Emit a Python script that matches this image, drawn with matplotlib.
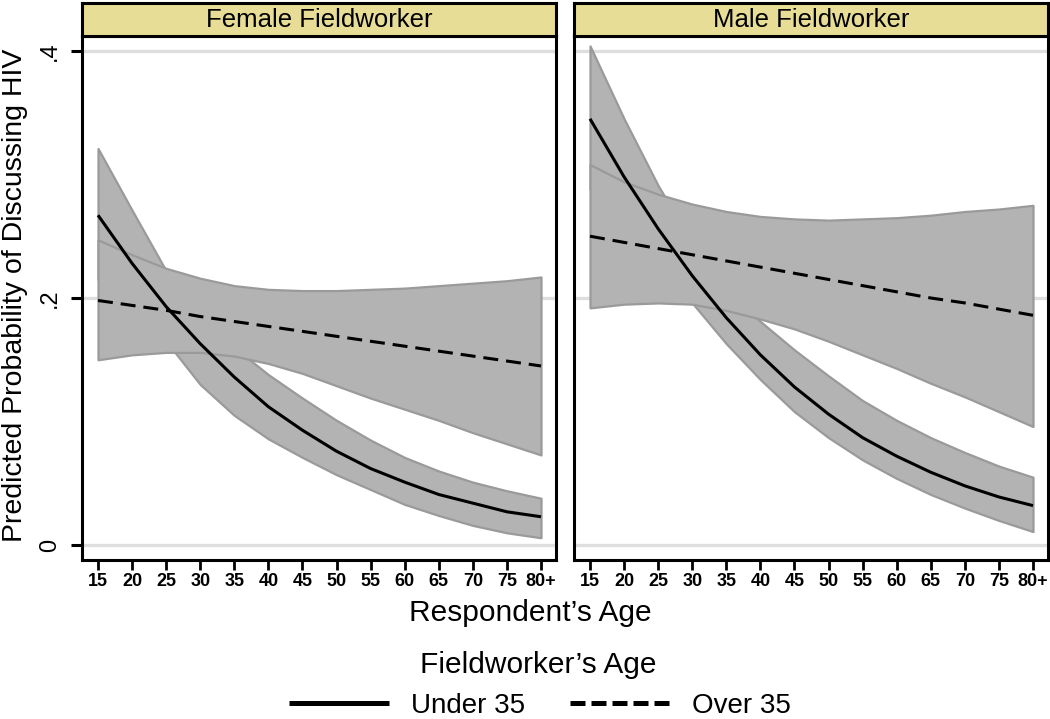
import matplotlib
matplotlib.use("Agg")
import matplotlib.pyplot as plt
from matplotlib.lines import Line2D

plt.rcParams['font.family'] = ['Liberation Sans', 'DejaVu Sans']

# ---------------- data ----------------
ages = [15, 20, 25, 30, 35, 40, 45, 50, 55, 60, 65, 70, 75, 80]
tick_labels = ['15', '20', '25', '30', '35', '40', '45', '50', '55', '60', '65', '70', '75', '80+']
panels = ['Female Fieldworker', 'Male Fieldworker']
series_labels = ['Under 35', 'Over 35']
legend_title = "Fieldworker\u2019s Age"
xlabel = "Respondent\u2019s Age"
ylabel = "Predicted Probability of Discussing HIV"
yticks = [0, 0.2, 0.4]
ytick_labels = ['0', '.2', '.4']

# Female fieldworker
f_under = [0.267, 0.228, 0.193, 0.163, 0.136, 0.112, 0.093, 0.076, 0.062, 0.051, 0.041, 0.034, 0.027, 0.023]
f_under_hi = [0.321, 0.271, 0.222, 0.187, 0.160, 0.138, 0.119, 0.101, 0.085, 0.071, 0.060, 0.051, 0.044, 0.038]
f_under_lo = [0.215, 0.190, 0.165, 0.130, 0.105, 0.086, 0.071, 0.057, 0.045, 0.033, 0.024, 0.016, 0.010, 0.006]
f_over = [0.198, 0.194, 0.190, 0.185, 0.181, 0.177, 0.173, 0.169, 0.165, 0.161, 0.157, 0.153, 0.149, 0.145]
f_over_hi = [0.247, 0.235, 0.224, 0.216, 0.210, 0.207, 0.206, 0.206, 0.207, 0.208, 0.210, 0.212, 0.214, 0.217]
f_over_lo = [0.150, 0.154, 0.156, 0.156, 0.153, 0.147, 0.139, 0.129, 0.119, 0.110, 0.101, 0.091, 0.082, 0.073]

# Male fieldworker
m_under = [0.345, 0.298, 0.256, 0.218, 0.184, 0.154, 0.128, 0.106, 0.087, 0.072, 0.059, 0.048, 0.039, 0.032]
m_under_hi = [0.404, 0.345, 0.291, 0.245, 0.210, 0.181, 0.158, 0.137, 0.117, 0.101, 0.087, 0.075, 0.064, 0.055]
m_under_lo = [0.288, 0.255, 0.226, 0.196, 0.163, 0.134, 0.108, 0.087, 0.069, 0.054, 0.041, 0.030, 0.020, 0.011]
m_over = [0.250, 0.245, 0.240, 0.235, 0.230, 0.225, 0.220, 0.215, 0.210, 0.205, 0.200, 0.196, 0.191, 0.186]
m_over_hi = [0.308, 0.294, 0.284, 0.276, 0.270, 0.266, 0.264, 0.263, 0.264, 0.265, 0.267, 0.270, 0.272, 0.275]
m_over_lo = [0.192, 0.195, 0.196, 0.195, 0.190, 0.183, 0.175, 0.165, 0.154, 0.143, 0.131, 0.120, 0.108, 0.096]

panel_data = [
    (f_under, f_under_lo, f_under_hi, f_over, f_over_lo, f_over_hi),
    (m_under, m_under_lo, m_under_hi, m_over, m_over_lo, m_over_hi),
]

# ---------------- styling ----------------
W, H = 1050, 719
fig = plt.figure(figsize=(W / 100, H / 100), dpi=100)
fig.patch.set_facecolor('white')

band_fill = '#b3b3b3'
band_edge = '#9a9a9a'
grid_col = '#dedede'
strip_col = '#e8dd96'

plot_top, plot_bot = 36, 560
panel_x = [82, 574]
panel_w = 474

tick_font = ['Liberation Sans Narrow', 'Liberation Sans', 'DejaVu Sans']

axes = []
for i, (px0, title) in enumerate(zip(panel_x, panels)):
    ax = fig.add_axes([px0 / W, 1 - plot_bot / H, panel_w / W, (plot_bot - plot_top) / H])
    axes.append(ax)
    u, ulo, uhi, o, olo, ohi = panel_data[i]

    for yv in yticks:
        ax.axhline(yv, color=grid_col, lw=2.4, zorder=1)

    ax.fill_between(ages, ulo, uhi, facecolor=band_fill, edgecolor=band_edge, lw=1.6, zorder=2)
    ax.fill_between(ages, olo, ohi, facecolor=band_fill, edgecolor=band_edge, lw=1.6, zorder=3)
    ax.plot(ages, u, color='black', lw=2.2, zorder=5, solid_capstyle='butt')
    ax.plot(ages, o, color='black', lw=2.2, dashes=(4.9, 2.6), zorder=5)

    ax.set_xlim(12.65, 82.2)
    ax.set_ylim(-0.012, 0.412)
    ax.set_xticks(ages)
    ax.set_xticklabels(tick_labels, fontsize=13, fontweight='bold', family=tick_font)
    ax.tick_params(axis='x', direction='out', length=7, width=2, pad=2, color='black')
    ax.set_yticks(yticks)
    if i == 0:
        ax.set_yticklabels(ytick_labels, fontsize=17, rotation=90, va='center')
        ax.tick_params(axis='y', direction='out', length=8, width=2.2, pad=7)
    else:
        ax.set_yticklabels([])
        ax.tick_params(axis='y', length=0)
    for sp in ax.spines.values():
        sp.set_linewidth(2.2)
        sp.set_color('black')
    ax.set_facecolor('white')

    # strip header
    sax = fig.add_axes([px0 / W, 1 - plot_top / H, panel_w / W, 33 / H])
    sax.set_facecolor(strip_col)
    sax.set_xticks([])
    sax.set_yticks([])
    for sp in sax.spines.values():
        sp.set_linewidth(2.2)
        sp.set_color('black')
    sax.text(0.5, 0.47, title, ha='center', va='center', fontsize=18.5, transform=sax.transAxes)

# axis titles
fig.text(15 / W, 1 - 295 / H, ylabel, rotation=90, ha='center', va='center', fontsize=20.5)
fig.text(530 / W, 1 - 613 / H, xlabel, ha='center', va='center', fontsize=21.5)

# legend
fig.text(538 / W, 1 - 665 / H, legend_title, ha='center', va='center', fontsize=21.5)
handles = [
    Line2D([], [], color='black', lw=3.6, solid_capstyle='butt'),
    Line2D([], [], color='black', lw=3.6, dashes=(3.0, 1.2)),
]
fig.legend(handles, series_labels, loc='center', bbox_to_anchor=(540 / W, 1 - 706 / H),
           ncol=2, frameon=False, fontsize=20, handlelength=3.6, handletextpad=0.8,
           columnspacing=1.6, borderpad=0, borderaxespad=0)

fig.savefig('out.png', dpi=100, facecolor='white')
